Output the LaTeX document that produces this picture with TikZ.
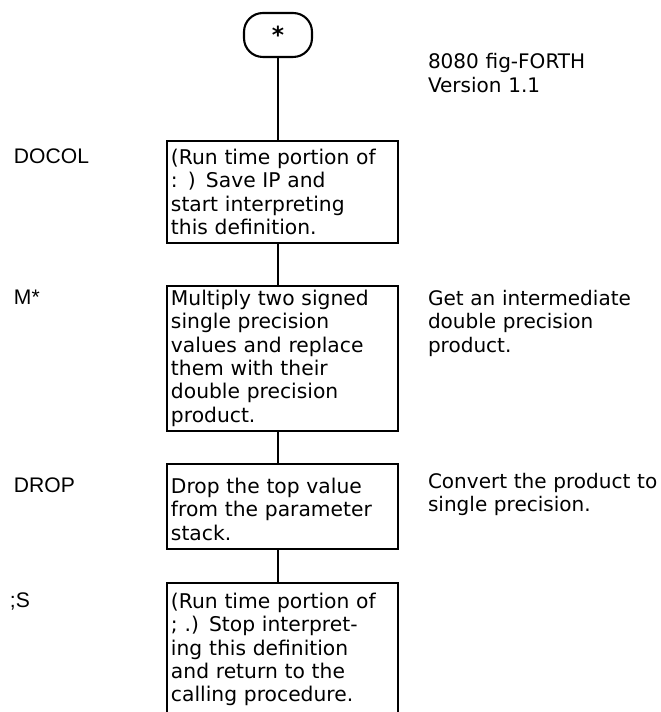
\documentclass[tikz,border=0pt]{standalone}
\usepackage{fontspec}
\setmainfont{DejaVu Sans}
\newfontfamily\wordfont{Liberation Sans}
\tikzset{
  term node/.style={draw,line width=1.8pt,rounded corners=16pt,minimum width=58pt,minimum height=37.5pt,inner sep=0pt,font=\bfseries\fontsize{20}{20}\selectfont},
  box node/.style={draw,line width=1.7pt,anchor=north west,align=left,text width=190pt,inner xsep=3.4pt,inner ysep=0pt,font=\fontsize{17.3}{19.9}\selectfont},
  word node/.style={anchor=base west,inner sep=0pt,font=\wordfont\fontsize{18}{20}\selectfont},
  note node/.style={anchor=base west,align=left,text width=210pt,inner sep=0pt,font=\fontsize{17.1}{20.3}\selectfont}
}
\begin{document}
\begin{tikzpicture}[x=0.03cm,y=-0.03cm,line width=1.7pt]
  \useasboundingbox (0,0) rectangle (660,712);
  \node [term node] (star) at (278,35) {*};
  \node [note node] (version) at (427,68.5) {8080 fig-FORTH\\Version 1.1};

  \node [box node,text height=20.1pt,text depth=67pt] (docol) at (166,140)
    {(Run time portion of\\: ) Save IP and\\start interpreting\\this definition.};
  \node [box node,text height=16.6pt,text depth=107.1pt] (mstar) at (166,285)
    {Multiply two signed\\single precision\\values and replace\\them with their\\double precision\\product.};
  \node [box node,text height=25.2pt,text depth=47.4pt] (drop) at (166,463)
    {Drop the top value\\from the parameter\\stack.};
  \node [box node,text height=21.8pt,text depth=102pt] (semis) at (166,582)
    {(Run time portion of\\; .) Stop interpret-\\ing this definition\\and return to the\\calling procedure.};

  \node [word node] (w1) at (13,163.5) {DOCOL};
  \node [word node] (w2) at (13,304.5) {M*};
  \node [word node] (w3) at (13,492.5) {DROP};
  \node [word node] (w4) at (9,607.5) {;S};

  \node [note node] (n2) at (427,305) {Get an intermediate\\double precision\\product.};
  \node [note node] (n3) at (427,488) {Convert the product to\\single precision.};

  \draw (star.south) -- (star.south |- docol.north);
  \draw (docol.south -| star) -- (mstar.north -| star);
  \draw (mstar.south -| star) -- (drop.north -| star);
  \draw (drop.south -| star) -- (semis.north -| star);
\end{tikzpicture}
\end{document}
